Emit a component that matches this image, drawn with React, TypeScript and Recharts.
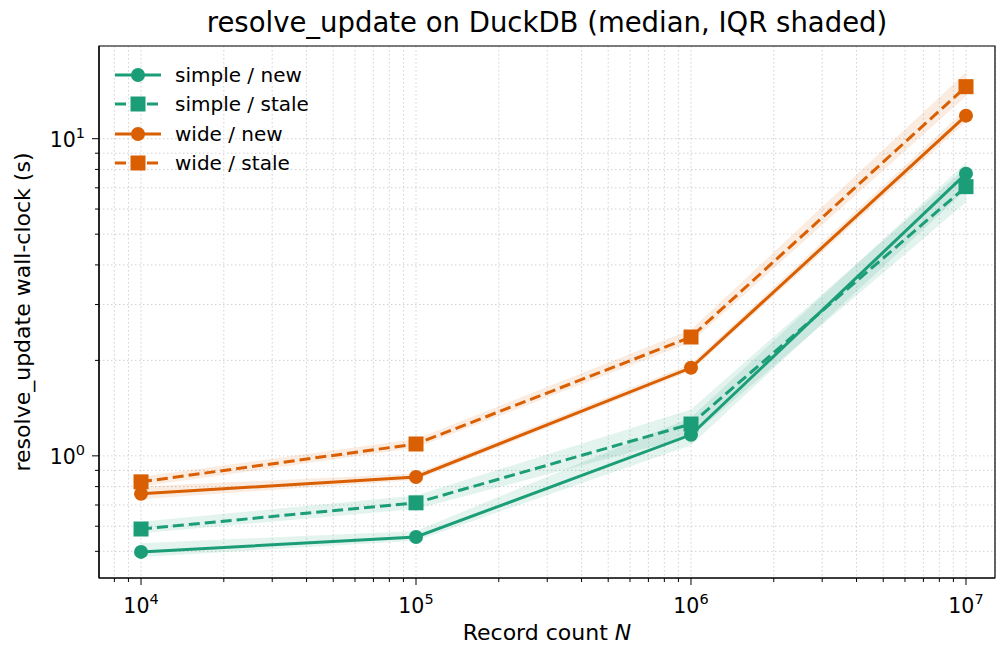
import React from "react";
import {
  ComposedChart,
  Line,
  Area,
  XAxis,
  YAxis,
  CartesianGrid,
  ReferenceArea,
} from "recharts";

const recordCounts = [1e4, 1e5, 1e6, 1e7];

const simpleNew = [0.498, 0.555, 1.165, 7.76];
const simpleNewLo = [0.48, 0.54, 1.08, 6.9];
const simpleNewHi = [0.53, 0.58, 1.32, 8.4];

const simpleStale = [0.588, 0.711, 1.26, 7.06];
const simpleStaleLo = [0.57, 0.68, 1.15, 6.3];
const simpleStaleHi = [0.62, 0.75, 1.4, 8.1];

const wideNew = [0.759, 0.858, 1.895, 11.82];
const wideNewLo = [0.73, 0.84, 1.85, 11.3];
const wideNewHi = [0.8, 0.88, 1.95, 12.4];

const wideStale = [0.828, 1.09, 2.37, 14.59];
const wideStaleLo = [0.8, 1.06, 2.28, 13.6];
const wideStaleHi = [0.86, 1.13, 2.5, 16.2];

const xTicks = [
  8e3, 9e3, 1e4, 2e4, 3e4, 4e4, 5e4, 6e4, 7e4, 8e4, 9e4, 1e5, 2e5, 3e5, 4e5, 5e5, 6e5, 7e5, 8e5, 9e5,
  1e6, 2e6, 3e6, 4e6, 5e6, 6e6, 7e6, 8e6, 9e6, 1e7,
];
const yTicks = [0.5, 0.6, 0.7, 0.8, 0.9, 1, 2, 3, 4, 5, 6, 7, 8, 9, 10];
const xMajor: Record<number, string> = { 10000: "4", 100000: "5", 1000000: "6", 10000000: "7" };
const yMajor: Record<number, string> = { 1: "0", 10: "1" };

const X_DOMAIN = [7034, 12750000];
const Y_DOMAIN = [0.412, 19.6];

const GREEN = "#1b9e77";
const ORANGE = "#d95f02";
const FONT = "DejaVu Sans, sans-serif";
const DASH = "11 5";

const data = recordCounts.map((n, i) => ({
  n,
  sn: simpleNew[i],
  snBand: [simpleNewLo[i], simpleNewHi[i]],
  ss: simpleStale[i],
  ssBand: [simpleStaleLo[i], simpleStaleHi[i]],
  wn: wideNew[i],
  wnBand: [wideNewLo[i], wideNewHi[i]],
  ws: wideStale[i],
  wsBand: [wideStaleLo[i], wideStaleHi[i]],
}));

const XTick = (props: any) => {
  const { x, y, payload } = props;
  const exp = xMajor[Math.round(payload.value)];
  return (
    <g>
      <line x1={x} x2={x} y1={y} y2={y + (exp ? 7 : 4)} stroke="#000" strokeWidth={1} />
      {exp && (
        <text x={x} y={y + 35} textAnchor="middle" fontFamily={FONT} fontSize={20.5} fill="#000">
          <tspan>10</tspan>
          <tspan dy={-9} fontSize={14.5}>{exp}</tspan>
        </text>
      )}
    </g>
  );
};

const YTick = (props: any) => {
  const { x, y, payload } = props;
  const exp = yMajor[Math.round(payload.value * 100) / 100];
  return (
    <g>
      <line x1={x - (exp ? 7 : 4)} x2={x} y1={y} y2={y} stroke="#000" strokeWidth={1} />
      {exp && (
        <text x={x - 14} y={y + 8} textAnchor="end" fontFamily={FONT} fontSize={20.5} fill="#000">
          <tspan>10</tspan>
          <tspan dy={-9} fontSize={14.5}>{exp}</tspan>
        </text>
      )}
    </g>
  );
};

const squareDot = (color: string) => (p: any) => (
  <rect key={`sq-${p.index}`} x={p.cx - 7.5} y={p.cy - 7.5} width={15} height={15} fill={color} />
);

const legendItems = [
  { label: "simple / new", color: GREEN, dashed: false, square: false },
  { label: "simple / stale", color: GREEN, dashed: true, square: true },
  { label: "wide / new", color: ORANGE, dashed: false, square: false },
  { label: "wide / stale", color: ORANGE, dashed: true, square: true },
];

const LegendBox = () => (
  <div
    style={{
      position: "absolute",
      left: 113,
      top: 60,
      fontFamily: FONT,
      fontSize: 20,
      color: "#000",
    }}
  >
    {legendItems.map((it) => (
      <div key={it.label} style={{ display: "flex", alignItems: "center", height: 29.5 }}>
        <svg width={62} height={20}>
          <line
            x1={2}
            x2={48}
            y1={10}
            y2={10}
            stroke={it.color}
            strokeWidth={3}
            strokeDasharray={it.dashed ? DASH : undefined}
          />
          {it.square ? (
            <rect x={17.5} y={2.5} width={15} height={15} fill={it.color} />
          ) : (
            <circle cx={25} cy={10} r={7} fill={it.color} />
          )}
        </svg>
        <span>{it.label}</span>
      </div>
    ))}
  </div>
);

export default function App() {
  return (
    <div style={{ position: "absolute", left: 0, top: 0, width: 998, height: 646, background: "#fff" }}>
      <ComposedChart width={998} height={646} data={data} margin={{ top: 46, right: 3, bottom: 0, left: 0 }}>
        <CartesianGrid stroke="#cccccc" strokeDasharray="1.5 2.5" strokeWidth={0.9} />
        <XAxis
          dataKey="n"
          type="number"
          scale="log"
          domain={X_DOMAIN}
          ticks={xTicks}
          allowDataOverflow
          height={68}
          tickSize={0}
          tickMargin={0}
          tickLine={false}
          interval={0}
          tick={<XTick />}
          axisLine={{ stroke: "#000", strokeWidth: 1.2 }}
        />
        <YAxis
          type="number"
          scale="log"
          domain={Y_DOMAIN}
          ticks={yTicks}
          allowDataOverflow
          width={99}
          tickSize={0}
          tickMargin={0}
          tickLine={false}
          interval={0}
          tick={<YTick />}
          axisLine={{ stroke: "#000", strokeWidth: 1.2 }}
        />
        <ReferenceArea
          x1={X_DOMAIN[0]}
          x2={X_DOMAIN[1]}
          y1={Y_DOMAIN[0]}
          y2={Y_DOMAIN[1]}
          fill="none"
          stroke="#000"
          strokeWidth={1.2}
          ifOverflow="visible"
        />
        <Area dataKey="snBand" fill={GREEN} fillOpacity={0.12} stroke="none" isAnimationActive={false} />
        <Area dataKey="ssBand" fill={GREEN} fillOpacity={0.12} stroke="none" isAnimationActive={false} />
        <Area dataKey="wnBand" fill={ORANGE} fillOpacity={0.12} stroke="none" isAnimationActive={false} />
        <Area dataKey="wsBand" fill={ORANGE} fillOpacity={0.12} stroke="none" isAnimationActive={false} />
        <Line
          dataKey="sn"
          stroke={GREEN}
          strokeWidth={3}
          dot={{ r: 7, fill: GREEN, stroke: GREEN, strokeWidth: 0 }}
          isAnimationActive={false}
        />
        <Line
          dataKey="ss"
          stroke={GREEN}
          strokeWidth={3}
          strokeDasharray={DASH}
          dot={squareDot(GREEN)}
          isAnimationActive={false}
        />
        <Line
          dataKey="wn"
          stroke={ORANGE}
          strokeWidth={3}
          dot={{ r: 7, fill: ORANGE, stroke: ORANGE, strokeWidth: 0 }}
          isAnimationActive={false}
        />
        <Line
          dataKey="ws"
          stroke={ORANGE}
          strokeWidth={3}
          strokeDasharray={DASH}
          dot={squareDot(ORANGE)}
          isAnimationActive={false}
        />
        <text x={547} y={32} textAnchor="middle" fontFamily={FONT} fontSize={27.5} fill="#000">
          resolve_update on DuckDB (median, IQR shaded)
        </text>
        <text x={547} y={640} textAnchor="middle" fontFamily={FONT} fontSize={22} fill="#000">
          Record count <tspan fontStyle="italic">N</tspan>
        </text>
        <text
          x={0}
          y={0}
          transform="translate(30,312) rotate(-90)"
          textAnchor="middle"
          fontFamily={FONT}
          fontSize={22}
          fill="#000"
        >
          resolve_update wall-clock (s)
        </text>
      </ComposedChart>
      <LegendBox />
    </div>
  );
}
